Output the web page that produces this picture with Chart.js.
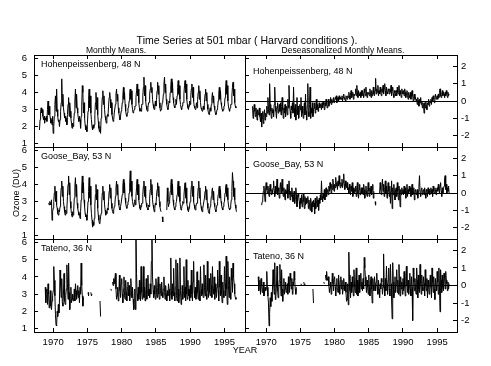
<!DOCTYPE html>
<html><head><meta charset="utf-8">
<script src="https://cdn.jsdelivr.net/npm/chart.js@4.4.1/dist/chart.umd.min.js"></script>
<style>
html,body{margin:0;padding:0;background:#fff;}
#wrap{position:relative;width:491px;height:366px;overflow:hidden;background:#fff;font-family:'Liberation Sans',Arial,Helvetica,sans-serif;color:#000;}
canvas{position:absolute;left:0;top:0;}
.t{position:absolute;white-space:nowrap;line-height:1;}
</style></head><body>
<div id="wrap">
<canvas id="c00" width="491" height="366"></canvas>
<canvas id="c01" width="491" height="366"></canvas>
<canvas id="c10" width="491" height="366"></canvas>
<canvas id="c11" width="491" height="366"></canvas>
<canvas id="c20" width="491" height="366"></canvas>
<canvas id="c21" width="491" height="366"></canvas>
<div class="t" style="left:0;width:494px;text-align:center;top:35px;font-size:10.5px">Time Series at 501 mbar ( Harvard conditions ).</div>
<div class="t" style="left:116px;top:46px;font-size:8.5px;transform:translateX(-50%)">Monthly Means.</div>
<div class="t" style="left:343px;top:46px;font-size:8.5px;transform:translateX(-50%)">Deseasonalized Monthly Means.</div>
<div class="t" id="lab00" style="left:41px;top:60px;font-size:9px"></div>
<div class="t" id="lab01" style="left:253px;top:67px;font-size:9px"></div>
<div class="t" id="lab10" style="left:41px;top:152px;font-size:9px"></div>
<div class="t" id="lab11" style="left:253px;top:160px;font-size:9px"></div>
<div class="t" id="lab20" style="left:41px;top:244px;font-size:9px"></div>
<div class="t" id="lab21" style="left:253px;top:252px;font-size:9px"></div>
<div class="t" style="left:245px;top:346px;font-size:9px;transform:translateX(-50%)">YEAR</div>
</div>
<script>
const startYear = 1968;
const xTicks = [1970, 1975, 1980, 1985, 1990, 1995];
const leftYTicks = [1, 2, 3, 4, 5, 6];
const rightYTicks = [-2, -1, 0, 1, 2];
const stations = ['Hohenpeissenberg, 48 N', 'Goose_Bay, 53 N', 'Tateno, 36 N'];
const yTitle = 'Ozone (DU)';

const hohenMonthly = [
1.8,2.4,2.9,3.1,2.8,3.0,2.6,2.4,2.6,2.2,2.5,2.4,
2.6,2.3,3.0,3.5,2.7,3.2,2.7,2.5,2.2,2.4,2.1,2.6,
1.6,2.0,2.6,3.3,3.8,2.9,4.2,3.0,2.6,2.3,2.4,2.0,
2.4,2.9,3.4,4.8,3.2,3.9,3.1,2.8,2.5,2.6,2.3,2.5,
2.1,2.7,3.3,3.7,2.6,3.4,2.9,2.5,2.2,1.9,2.2,2.0,
2.3,2.8,3.5,4.2,3.1,3.9,3.1,2.8,2.5,2.3,2.6,2.4,
1.9,2.6,3.2,4.4,4.0,2.8,3.4,2.5,2.1,1.8,2.0,1.7,
2.2,2.9,3.6,4.2,3.1,3.8,2.8,2.4,2.0,1.8,2.1,1.9,
2.1,2.7,3.4,4.0,3.0,3.7,2.7,2.3,1.9,1.7,2.0,1.6,
2.5,3.1,3.7,4.1,3.3,3.8,3.0,2.6,2.4,2.2,2.5,2.7,
2.6,3.2,3.7,4.0,3.6,3.1,3.4,2.7,2.5,2.3,2.4,2.8,
2.8,3.3,3.9,4.2,3.5,3.9,3.1,2.8,2.6,2.4,2.6,2.9,
3.0,3.4,3.8,4.3,3.6,4.0,3.3,2.9,2.7,2.6,2.8,3.1,
3.1,3.5,4.0,4.2,3.6,4.1,3.3,3.0,2.8,2.9,3.0,3.2,
3.2,3.7,4.1,4.5,3.8,4.2,3.4,3.1,2.9,3.0,2.9,3.3,
3.3,3.8,4.3,4.9,3.8,4.4,3.5,3.2,3.0,2.9,3.1,3.4,
3.4,3.9,4.2,4.6,4.0,4.3,3.6,3.3,3.1,3.0,3.2,3.5,
3.2,3.6,4.1,4.6,3.9,4.4,3.4,3.1,2.9,3.0,3.1,3.4,
3.5,3.9,4.5,4.9,4.0,4.5,3.6,3.3,3.1,3.0,3.2,3.5,
3.4,4.0,4.4,4.8,4.0,4.6,3.7,3.4,3.2,3.1,3.3,3.6,
3.3,3.8,4.3,4.7,3.9,4.4,3.6,3.3,3.1,3.0,3.2,3.4,
3.4,3.9,4.4,4.7,4.0,4.5,3.6,3.3,3.1,3.0,3.2,3.5,
3.3,3.8,4.2,4.5,3.7,4.3,3.5,3.2,3.1,3.0,3.1,3.4,
3.1,3.6,4.0,4.4,3.6,4.1,3.4,3.1,3.0,2.9,3.0,3.2,
3.0,3.4,3.9,4.2,3.5,4.0,3.3,3.0,2.8,2.7,2.9,3.1,
2.9,3.3,3.7,4.0,3.4,3.8,3.2,3.0,2.8,2.7,2.8,3.0,
3.1,3.5,3.9,4.3,3.6,4.1,3.4,3.2,3.0,2.9,3.0,3.2,
3.2,3.7,4.2,4.7,3.9,4.4,3.5,3.2,3.0,2.9,3.1,3.3,
3.3,3.8,4.3,4.6,3.8,4.2,3.4,3.2,3.1,3.1,null,null
];

const hohenDeseason = [
-0.3,-1.0,-0.5,-0.2,-0.6,-0.9,-0.4,-0.7,-1.1,-0.5,-0.8,-0.6,
-0.4,-0.9,-1.2,-0.7,-1.5,-1.0,-0.6,-1.3,-0.8,-0.5,-1.1,-0.7,
-0.9,-0.3,-0.7,0.2,-0.5,-0.8,1.0,-0.2,-0.6,-1.0,-0.4,-0.7,
-0.5,-0.9,-0.2,0.8,-0.3,-0.6,-1.0,-0.4,-0.1,-0.7,-0.5,-0.2,
-0.6,-0.1,-0.8,-0.3,0.2,-0.5,-1.0,-0.4,-0.7,-0.2,-0.9,-0.5,
-0.3,-0.8,0.1,-0.4,0.9,-0.2,-0.6,-1.0,-0.3,-0.5,-0.1,-0.7,
0.8,-0.4,-0.9,-0.2,-1.1,-0.5,0.2,-0.8,-0.3,-1.0,-0.6,-0.2,
-0.5,0.2,-0.9,-0.3,-0.7,-1.0,-0.4,-0.1,-0.8,0.4,-0.6,-1.1,
-0.3,1.0,-0.6,-0.9,-0.2,0.8,-1.0,-0.4,-0.7,-0.1,-0.9,-0.5,
-0.4,-0.1,-0.7,-0.3,0.1,-0.5,-0.2,-0.6,-0.3,-0.1,-0.4,-0.2,
-0.3,-0.5,-0.1,-0.4,0.0,-0.2,-0.5,-0.1,-0.3,0.1,-0.2,-0.4,
-0.2,0.1,-0.3,0.0,-0.1,0.2,-0.2,0.1,-0.1,0.0,0.2,-0.1,
0.0,0.2,0.1,0.3,-0.1,0.1,0.2,0.0,0.3,0.1,0.2,0.1,
0.1,0.3,0.0,0.2,0.4,0.1,0.2,0.0,0.3,0.2,0.1,0.3,
0.2,0.5,0.3,0.1,0.4,0.6,0.2,0.3,0.5,0.1,0.4,0.3,
0.4,0.7,0.3,0.9,0.5,0.2,0.6,0.4,0.3,0.5,0.2,0.6,
0.3,0.6,0.4,0.2,0.7,0.5,0.3,0.8,0.4,0.2,0.5,0.4,
0.5,0.3,0.7,0.4,0.2,0.6,0.3,0.5,0.8,0.4,0.3,0.6,
1.3,0.4,0.7,0.5,0.9,0.3,0.6,0.4,0.8,0.5,0.3,0.7,
0.5,0.9,0.4,0.7,1.0,0.6,0.3,0.8,0.5,0.4,0.7,0.6,
0.4,0.7,0.5,0.9,0.3,0.6,0.8,0.4,0.2,0.6,0.5,0.3,
0.6,0.3,0.8,0.5,0.4,0.9,0.3,0.6,0.4,0.2,0.7,0.5,
0.4,0.6,0.3,0.7,0.5,0.2,0.4,0.6,0.3,0.1,0.5,0.3,
0.2,0.5,0.1,0.4,0.6,0.3,0.0,0.3,0.4,0.1,0.2,0.0,
0.1,-0.2,0.2,0.0,-0.3,0.1,-0.1,0.2,-0.2,0.0,-0.4,-0.1,
-0.2,-0.7,-0.1,-0.4,0.0,-0.3,-0.5,-0.1,-0.2,0.1,-0.3,0.0,
-0.1,0.1,-0.2,0.2,0.0,0.3,0.1,-0.1,0.2,0.4,0.1,0.2,
0.3,0.1,0.4,0.2,0.5,0.7,0.3,0.2,0.4,0.6,0.3,0.5,
0.4,0.2,0.5,0.3,0.6,0.4,0.2,0.5,0.3,0.4,null,null
];

const gooseMonthly = [
null,null,null,null,null,null,null,null,null,null,null,null,
null,null,null,null,2.9,2.8,3.0,2.9,2.8,3.1,1.9,2.4,
2.6,3.0,3.5,3.9,3.0,3.6,2.8,2.6,2.3,2.2,2.5,2.4,
2.7,3.2,3.8,4.2,3.3,3.9,3.0,2.7,2.4,2.2,2.5,2.3,
2.6,3.3,4.0,4.5,3.4,4.1,3.0,2.6,2.3,2.1,2.4,2.2,
2.5,3.2,3.9,4.4,3.3,4.0,2.9,2.6,2.4,2.2,2.3,2.0,
2.4,3.1,3.8,4.5,3.5,4.1,3.1,2.7,2.3,2.1,2.2,1.9,
2.3,3.0,3.6,4.4,3.2,3.9,2.8,2.3,1.9,1.5,1.8,1.6,
2.0,2.8,3.4,4.0,3.1,3.7,2.6,2.2,1.9,1.7,1.8,2.1,
2.3,2.9,3.5,3.9,3.1,3.6,2.8,2.5,2.2,2.4,2.3,2.6,
2.5,3.0,3.6,4.0,3.2,3.8,2.9,2.6,2.4,2.3,2.5,2.7,
2.8,3.3,3.8,4.2,3.4,4.0,3.1,2.8,2.6,2.5,2.7,2.9,
2.9,3.4,3.9,4.3,3.5,4.1,3.2,2.9,2.7,2.6,2.8,3.0,
3.0,3.5,4.1,4.8,3.6,4.2,3.3,3.0,2.8,2.7,2.9,3.1,
2.8,3.3,3.8,4.3,3.4,4.0,3.1,2.8,2.6,2.5,2.7,2.9,
2.9,3.4,3.9,4.2,3.3,3.9,3.2,2.9,2.7,2.6,2.5,2.8,
2.7,3.2,3.7,4.3,3.4,4.0,3.1,2.8,2.6,2.4,2.6,2.9,
2.8,3.3,3.7,4.1,3.3,3.9,3.0,2.7,2.5,2.4,null,2.1,
1.8,null,null,null,null,null,null,2.5,3.8,3.0,2.7,2.9,
3.1,3.6,4.0,4.3,3.4,4.0,3.1,2.8,2.6,2.5,2.7,2.9,
3.0,3.4,3.9,4.2,3.3,3.9,3.0,2.7,2.5,2.6,2.8,3.0,
2.9,3.3,3.8,4.1,3.2,3.8,2.9,2.7,2.5,2.4,2.6,2.8,
3.0,3.4,3.9,4.2,3.3,3.9,3.0,2.8,2.6,2.5,2.7,2.9,
2.9,3.3,3.8,4.2,3.2,3.8,3.0,2.7,2.5,2.4,2.6,2.8,
2.8,3.2,3.6,3.9,3.1,3.7,2.9,2.6,2.4,2.3,2.5,2.7,
2.9,3.3,3.6,3.8,3.1,3.6,2.9,2.7,2.5,2.4,2.6,2.8,
3.0,3.4,3.7,3.9,3.2,3.7,3.0,2.8,2.6,2.5,2.7,2.9,
3.0,3.5,3.8,4.0,3.3,3.8,3.1,2.8,2.6,2.5,2.6,2.8,
3.1,3.6,4.7,4.2,3.3,3.8,3.1,2.8,2.6,2.4,null,null
];

const gooseDeseason = [
null,null,null,null,null,null,null,null,null,null,null,null,
null,null,null,null,-0.7,-0.5,-0.3,0.1,0.4,0.0,-0.5,0.3,
0.6,0.2,0.0,0.4,0.1,-0.2,0.3,0.5,0.1,-0.1,0.2,0.0,
0.3,0.7,0.1,-0.2,0.4,0.0,0.2,0.8,-0.1,0.3,0.1,-0.3,
0.2,0.6,0.0,0.4,0.8,0.1,-0.2,0.3,0.0,-0.4,0.2,0.1,
0.0,0.5,-0.3,0.2,0.7,0.0,-0.4,0.1,-0.2,0.3,-0.1,-0.5,
-0.2,0.1,-0.6,-0.3,0.3,-0.1,-0.8,-0.4,0.0,-0.2,-0.5,-0.9,
-0.3,-0.6,-0.1,-0.8,-0.4,0.0,-0.5,-0.9,-0.2,-0.7,-0.3,-0.6,
-0.5,-0.2,-0.9,-0.4,-0.7,-1.0,-0.3,-0.6,-1.1,-0.5,-0.8,-0.4,
-0.6,-1.2,-0.3,-0.9,-0.5,-0.2,-0.8,-0.4,-1.0,-0.3,-0.6,-0.1,
-0.4,0.7,-0.2,-0.5,0.0,-0.3,0.2,-0.4,-0.1,0.3,-0.2,0.1,
0.2,-0.1,0.4,0.1,0.6,0.3,0.0,0.5,0.2,0.8,0.4,0.1,
0.5,0.3,0.9,0.4,0.6,0.2,0.7,0.4,1.0,0.5,0.3,0.6,
0.4,0.8,0.3,0.6,1.1,0.5,0.2,0.7,0.4,0.3,0.6,0.2,
0.3,0.0,0.5,0.2,-0.1,0.4,0.1,0.6,-0.2,0.3,0.0,0.2,
0.1,0.4,-0.2,0.3,0.6,0.0,-0.3,0.2,0.5,-0.1,0.1,0.3,
0.0,0.3,-0.1,0.5,0.2,-0.3,0.1,0.4,0.0,-0.2,0.2,0.6,
0.1,-0.2,0.3,0.0,0.4,-0.1,0.2,0.5,-0.3,0.1,null,-0.5,
-0.7,null,null,null,null,null,null,0.0,0.6,0.2,-0.1,0.3,
0.8,0.1,0.5,-0.2,0.3,0.7,0.0,0.4,-0.3,0.2,0.6,0.1,
-0.2,0.4,-0.6,0.1,0.7,-0.9,0.3,-0.1,0.5,0.0,-0.4,0.2,
0.3,-0.2,0.6,0.1,-0.4,0.4,0.0,-0.8,0.2,-0.1,0.3,0.0,
0.2,-0.1,0.4,0.0,0.3,-0.3,0.1,0.5,-0.2,0.2,0.0,0.4,
0.1,0.3,-0.2,0.2,0.5,-0.1,0.0,0.3,-0.4,0.1,0.2,-0.1,
0.0,0.2,-0.3,0.1,0.4,1.0,0.0,-0.2,0.2,0.3,-0.1,0.1,
0.2,-0.1,0.3,0.0,-0.3,0.2,0.1,-0.2,0.3,0.0,0.2,-0.1,
0.1,0.3,0.0,0.2,-0.2,0.4,0.1,0.0,0.3,0.2,-0.1,0.2,
0.3,0.1,0.5,0.2,0.0,0.4,0.6,0.1,-0.2,0.3,0.0,0.2,
0.4,0.8,1.0,0.2,0.5,0.0,0.3,0.1,0.4,0.0,null,null
];

const tatenoMonthly = [
null,null,null,null,null,null,null,null,null,null,3.4,2.5,
2.9,3.3,2.4,3.6,3.0,2.2,2.6,3.2,2.3,2.1,2.6,2.9,
3.2,4.6,3.8,2.9,1.8,1.2,1.15,2.0,1.7,2.4,1.9,2.6,
4.4,3.5,2.8,3.9,2.5,2.3,3.0,4.2,2.6,2.4,2.9,3.3,
4.7,3.6,2.7,4.8,3.1,2.1,2.6,3.4,2.5,2.7,3.0,2.6,
2.8,3.3,2.6,3.6,3.2,2.7,3.0,3.5,2.8,3.2,2.5,3.4,
3.0,4.8,3.5,2.9,2.3,2.8,null,null,null,null,null,null,
null,3.1,2.9,null,null,null,3.1,2.9,3.0,null,null,null,
null,null,null,null,null,null,null,null,null,null,2.6,1.7,
null,null,null,null,null,null,null,null,null,null,null,null,
null,null,null,null,null,3.3,3.2,null,3.7,3.5,3.9,3.6,
3.6,4.2,3.3,2.7,2.9,3.4,2.6,3.0,4.1,3.2,2.8,3.6,
3.9,3.0,2.5,3.3,4.0,2.9,2.7,3.8,3.1,2.6,3.4,3.7,
2.9,3.5,2.6,3.0,3.9,3.2,2.8,3.4,2.7,2.1,2.2,3.3,
2.1,6.5,4.2,3.0,2.6,3.4,2.7,3.8,3.0,2.6,4.6,3.1,
2.7,3.3,4.6,2.8,3.4,2.6,3.0,3.9,2.7,3.2,4.1,2.9,
3.3,2.8,3.6,3.0,4.9,6.4,4.0,3.2,2.8,3.5,3.0,2.7,
3.9,3.1,2.8,3.4,4.0,3.0,2.7,3.6,3.2,2.9,3.7,3.1,
2.8,3.3,4.0,3.1,2.7,3.5,3.0,2.6,3.2,2.9,3.6,3.3,
2.6,3.0,5.1,3.2,2.7,3.6,2.9,4.5,3.1,2.6,3.4,5.0,
2.9,2.6,4.8,3.3,2.5,3.0,5.1,3.2,2.4,2.8,3.5,2.7,
3.1,4.6,2.8,3.4,2.6,5.0,3.0,2.7,3.8,2.9,3.3,2.6,
3.5,2.8,4.4,3.0,2.6,3.7,4.9,3.2,2.8,3.4,2.7,3.0,
4.3,3.1,2.7,3.8,3.2,2.6,4.6,3.3,2.9,3.6,3.0,2.8,
4.7,3.4,2.9,4.1,3.0,2.7,4.9,3.2,2.8,3.9,3.1,2.9,
4.2,3.5,2.8,4.6,3.3,3.0,4.0,2.7,3.6,3.1,2.8,3.4,
4.4,3.2,2.6,4.9,3.4,2.9,4.1,3.0,2.5,3.7,3.2,2.8,
4.6,3.6,2.9,5.2,3.3,2.4,4.9,3.5,2.8,4.0,3.1,2.7,
4.5,3.8,3.1,4.8,4.0,3.6,3.0,2.8,2.7,2.8,null,null
];

const tatenoDeseason = [
null,null,null,null,null,null,null,null,null,null,0.5,-0.3,
0.1,0.3,-0.5,0.4,0.0,-0.4,-0.2,0.2,-0.6,-0.5,-0.1,-0.3,
-0.2,0.8,-0.1,-0.6,-1.0,-2.3,-1.6,-0.7,-1.2,-0.4,-0.9,-0.2,
0.9,0.1,-0.5,1.3,-0.8,-0.6,0.0,1.1,-0.3,-0.7,-0.2,0.3,
1.2,0.3,-0.6,0.9,-0.2,-0.9,-0.3,0.4,-0.5,-0.2,0.2,-0.4,
-0.3,0.1,-0.5,0.5,0.0,-0.4,0.7,0.3,-0.2,0.4,-0.5,0.2,
0.0,0.8,0.3,-0.2,-0.5,-0.1,null,null,null,null,null,null,
null,0.1,0.0,null,null,null,0.2,0.0,0.1,null,null,null,
null,null,null,null,null,null,null,null,null,null,-0.2,-1.0,
null,null,null,null,null,null,null,null,null,null,null,null,
null,null,null,null,null,0.2,0.1,null,0.6,0.3,0.8,0.4,
0.3,0.5,0.0,-0.4,-0.1,0.2,-0.5,-0.1,0.7,0.1,-0.3,0.4,
0.5,-0.1,-0.6,0.1,0.4,-0.3,-0.4,0.6,0.0,-0.5,0.3,0.5,
-0.2,0.3,-0.5,-0.2,0.4,0.0,-0.3,0.2,-0.4,-0.9,-0.8,0.1,
-1.1,1.9,0.6,-0.3,-0.7,0.2,-0.4,0.5,-0.1,-0.6,0.9,0.0,
-0.4,0.2,1.0,-0.5,0.3,-0.6,-0.1,0.6,-0.4,0.1,0.7,-0.2,
0.2,-0.3,0.4,-0.2,1.6,1.0,0.5,0.0,-0.4,0.3,-0.1,-0.5,
0.6,-0.1,-0.6,0.2,0.5,-0.2,-1.0,0.4,0.0,-0.3,0.5,0.1,
-0.3,0.2,0.7,-0.1,-0.5,0.3,-0.2,-0.7,0.1,-0.2,0.4,0.2,
-0.5,-0.1,1.8,0.0,-0.6,0.4,-0.3,1.1,0.1,-0.5,0.3,1.0,
-0.2,-0.6,1.2,0.1,-0.8,-1.9,1.3,0.2,-0.7,-0.3,0.5,-0.4,
0.1,0.9,-0.4,0.3,-0.5,1.2,-0.1,-0.6,0.5,-0.2,0.2,-0.5,
0.4,-0.3,0.8,-0.1,-0.6,0.5,1.1,0.0,-0.4,0.3,-0.5,-0.1,
0.7,-0.2,-0.6,0.5,-0.1,-2.0,1.0,0.2,-0.3,0.4,-0.2,-0.5,
1.0,0.3,-0.7,0.6,-0.2,-0.4,1.2,0.1,-0.5,0.6,-0.1,-0.3,
0.5,0.1,-0.6,0.9,0.0,-0.3,0.4,-0.7,0.3,-0.1,-0.5,0.2,
0.6,-0.1,-0.7,1.0,0.2,-0.4,0.5,-0.2,-0.8,0.4,0.0,-0.3,
0.8,0.2,-0.5,1.0,0.0,-1.5,0.9,0.3,-0.4,0.6,-0.1,-0.3,
0.7,0.4,-0.2,0.8,0.3,0.1,-0.3,0.2,-0.2,0.1,null,null
];

const series = [[hohenMonthly, hohenDeseason], [gooseMonthly, gooseDeseason], [tatenoMonthly, tatenoDeseason]];

// layout (pixels) of the panels
const colL = [34, 245], colR = [245, 457], rowT = [55, 147, 239], rowB = [147, 239, 332];
const xRange = [[1967.2, 1998.0], [1966.9, 1997.9]];
const yRange = [[0.8, 6.2], [-2.65, 2.65]];

Chart.defaults.font.family = "'Liberation Sans', Arial, Helvetica, sans-serif";
Chart.defaults.color = '#000';

stations.forEach((s, r) => {
  document.getElementById('lab' + r + '0').textContent = s;
  document.getElementById('lab' + r + '1').textContent = s;
});

function tickFix(list) { return s => { s.ticks = list.map(v => ({ value: v })); }; }

function build(row, col) {
  const values = series[row][col];
  const pts = values.map((v, i) => ({ x: startYear + i / 12, y: v }));
  const isLeft = col === 0, isBottom = row === 2;
  const sideW = 34, topH = 6, botH = isBottom ? 26 : 6;
  const lab = { size: 9.5 };
  const bd = { display: true, color: '#000', width: 1 };
  const [xmin, xmax] = xRange[col];
  const [ymin, ymax] = yRange[col];
  const yT = isLeft ? leftYTicks : rightYTicks;
  const scales = {
    x: {
      type: 'linear', position: 'bottom', min: xmin, max: xmax,
      afterBuildTicks: tickFix(xTicks), afterFit: s => { s.height = botH; },
      grid: { drawOnChartArea: false, tickLength: -4, color: '#000', tickColor: '#000' },
      border: bd,
      ticks: { display: isBottom, padding: 9, color: '#000', font: lab, maxRotation: 0, minRotation: 0, autoSkip: false, callback: v => String(v) }
    },
    x2: {
      type: 'linear', position: 'top', min: xmin, max: xmax,
      afterBuildTicks: tickFix(xTicks), afterFit: s => { s.height = topH; },
      grid: { drawOnChartArea: false, tickLength: -4, color: '#000', tickColor: '#000' },
      border: bd, ticks: { display: false }
    }
  };
  if (isLeft) {
    scales.y = {
      type: 'linear', position: 'left', min: ymin, max: ymax,
      afterBuildTicks: tickFix(yT), afterFit: s => { s.width = sideW; },
      grid: { drawOnChartArea: false, tickLength: -4, color: '#000', tickColor: '#000' },
      border: bd,
      ticks: { display: true, padding: 11, color: '#000', font: lab, callback: v => String(v) },
      title: row === 1 ? { display: true, text: yTitle, color: '#000', font: { size: 9 }, padding: { top: 11, bottom: 0 } } : { display: false }
    };
    scales.y2 = {
      type: 'linear', position: 'right', min: ymin, max: ymax,
      afterBuildTicks: tickFix(yT), afterFit: s => { s.width = sideW; },
      grid: { drawOnChartArea: false, tickLength: 4, color: '#000', tickColor: '#000' },
      border: bd, ticks: { display: false }
    };
  } else {
    scales.y = {
      type: 'linear', position: 'left', min: ymin, max: ymax,
      afterBuildTicks: tickFix(yT), afterFit: s => { s.width = sideW; },
      grid: { drawOnChartArea: false, drawTicks: false, color: '#000' },
      border: bd, ticks: { display: false }
    };
    scales.y2 = {
      type: 'linear', position: 'right', min: ymin, max: ymax,
      afterBuildTicks: tickFix(yT), afterFit: s => { s.width = sideW; },
      grid: { drawOnChartArea: true, tickLength: -4, tickColor: '#000',
        color: c => (c.tick && c.tick.value === 0) ? '#000' : 'rgba(0,0,0,0)' },
      border: bd,
      ticks: { display: true, padding: 8, color: '#000', font: lab, callback: v => String(v) }
    };
  }
  return new Chart(document.getElementById('c' + row + col), {
    type: 'line',
    data: { datasets: [{ data: pts, xAxisID: 'x', yAxisID: 'y', borderColor: '#000', borderWidth: 1, pointRadius: 0, spanGaps: false, tension: 0, fill: false }] },
    options: {
      responsive: false, animation: false, events: [],
      layout: { padding: { left: colL[col] - sideW, right: 491 - colR[col] - sideW, top: rowT[row] - topH, bottom: 366 - rowB[row] - botH } },
      plugins: { legend: { display: false }, tooltip: { enabled: false }, title: { display: false } },
      scales
    }
  });
}
for (let r = 0; r < 3; r++) for (let c = 0; c < 2; c++) build(r, c);
</script>
</body></html>
